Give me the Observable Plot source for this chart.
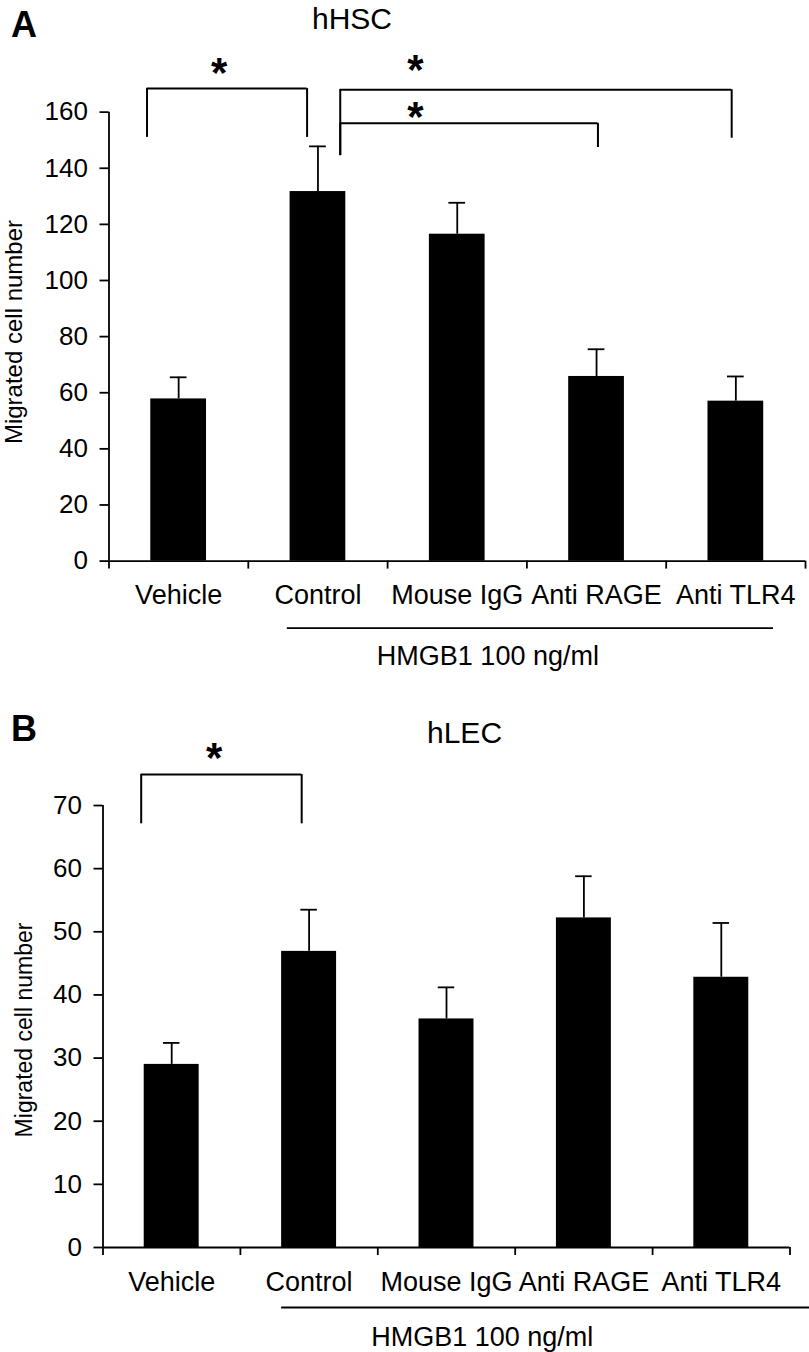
<!DOCTYPE html>
<html>
<head>
<meta charset="utf-8">
<script src="https://cdn.jsdelivr.net/npm/d3@7"></script>
<script src="https://cdn.jsdelivr.net/npm/@observablehq/plot@0.6"></script>
<style>
  body { margin: 0; background: #fff; }
  #wrap { position: relative; width: 809px; height: 1352px; overflow: hidden; background: #fff;
          font-family: "Liberation Sans", Arial, sans-serif; color: #000; }
  .lbl { position: absolute; line-height: 1; white-space: nowrap; color: #000; }
  .ylab { position: absolute; line-height: 1; white-space: nowrap; transform: translate(-50%, -50%) rotate(-90deg); }
  .panel { position: absolute; left: 0; }
</style>
</head>
<body>
<div id="wrap">
  <div class="lbl" style="left:11px;top:7px;font-size:36px;font-weight:bold;">A</div>
  <div class="lbl" style="left:312px;top:4px;font-size:30px;">hHSC</div>
  <div class="ylab" style="left:14px;top:332px;font-size:24px;">Migrated cell number</div>
  <div class="lbl" style="left:11px;top:711px;font-size:36px;font-weight:bold;">B</div>
  <div class="lbl" style="left:427px;top:718px;font-size:30px;">hLEC</div>
  <div class="ylab" style="left:24px;top:1030px;font-size:23px;">Migrated cell number</div>
</div>
<script>
// ---- data ----
const categories = ["Vehicle", "Control", "Mouse IgG", "Anti RAGE", "Anti TLR4"];
const groupLabel = "HMGB1 100 ng/ml";

// Panel A: hHSC
const hscMean = [57.8, 131.7, 116.5, 65.8, 57.0];
const hscSem  = [7.7, 16.1, 11.2, 9.7, 8.8];
const hscTicks = [0, 20, 40, 60, 80, 100, 120, 140, 160];

// Panel B: hLEC
const lecMean = [29.0, 46.9, 36.2, 52.2, 42.8];
const lecSem  = [3.4, 6.6, 5.0, 6.6, 8.6];
const lecTicks = [0, 10, 20, 30, 40, 50, 60, 70];

// significance brackets (x in category-index units, y in data units)
const hscBracketFrom = [-0.227, 1.16, 1.16];
const hscBracketTo   = [0.922, 3.97, 3.01];
const hscBracketTop  = [168.4, 168.0, 156.0];
const hscBracketLeftEnd  = [151.0, 144.5, 144.5];
const hscBracketRightEnd = [151.0, 150.7, 147.4];
const hscStarX = [0.29, 1.70, 1.70];
const hscStarY = [177.3, 178.4, 161.6];

const lecBracketFrom = [-0.222];
const lecBracketTo   = [0.946];
const lecBracketTop  = [74.9];
const lecBracketLeftEnd  = [67.1];
const lecBracketRightEnd = [67.1];
const lecStarX = [0.31];
const lecStarY = [79.0];

// HMGB1 group underline (category-index units)
const hscGroupFrom = 0.78, hscGroupTo = 4.27, hscGroupMid = 2.22;
const lecGroupFrom = 0.80, lecGroupTo = 5.3, lecGroupMid = 2.26;

const bounds = [-0.5, 0.5, 1.5, 2.5, 3.5, 4.5];

function panel(o) {
  const idx = o.means.map((_, i) => i);
  const br = o.bFrom.map((_, i) => i);
  const st = o.sX.map((_, i) => i);
  const SW = 1.8;
  return Plot.plot({
    width: 809,
    height: o.height,
    marginLeft: o.left,
    marginRight: 809 - o.right,
    marginTop: o.zeroPx - o.yTop * o.ppu,
    marginBottom: o.height - o.zeroPx,
    x: { type: "linear", domain: [-0.5, 4.5], axis: null },
    y: { type: "linear", domain: [0, o.yTop], axis: null },
    style: { fontFamily: "'Liberation Sans', Arial, sans-serif", fontSize: "26px", color: "#000", background: "transparent", overflow: "visible" },
    marks: [
      // bars
      Plot.rect(idx, { x1: i => i - 0.2, x2: i => i + 0.2, y1: () => 0, y2: i => o.means[i], fill: "#000" }),
      // error bars
      Plot.ruleX(idx, { x: i => i, y1: i => o.means[i], y2: i => o.means[i] + o.sems[i], stroke: "#000", strokeWidth: SW }),
      Plot.ruleY(idx, { y: i => o.means[i] + o.sems[i], x1: i => i - 0.06, x2: i => i + 0.06, stroke: "#000", strokeWidth: SW }),
      // axis lines
      Plot.ruleX([0], { x: () => -0.5, y1: () => 0, y2: () => o.ticks[o.ticks.length - 1], stroke: "#000", strokeWidth: SW }),
      Plot.ruleY([0], { y: () => 0, x1: () => -0.5, x2: () => 4.5, stroke: "#000", strokeWidth: SW }),
      Plot.axisY({ ticks: o.ticks, tickSize: 9, tickPadding: 12, fontSize: 26, strokeWidth: SW, label: null }),
      Plot.axisX({ ticks: bounds, tickSize: 8, tickFormat: () => "", strokeWidth: SW, label: null }),
      // category labels
      Plot.text(categories, { x: (d, i) => i, y: () => 0, text: d => d, dy: 43, lineAnchor: "bottom", fontSize: 27, fill: "#000" }),
      // group underline and label
      Plot.ruleY([0], { y: () => 0, x1: () => o.gFrom, x2: () => o.gTo, dy: o.gLineDy, stroke: "#000", strokeWidth: SW }),
      Plot.text([groupLabel], { x: () => o.gMid, y: () => 0, text: d => d, dy: o.gTextDy, lineAnchor: "bottom", fontSize: 27, fill: "#000" }),
      // significance brackets
      Plot.ruleY(br, { y: i => o.bTop[i], x1: i => o.bFrom[i], x2: i => o.bTo[i], stroke: "#000", strokeWidth: 2 }),
      Plot.ruleX(br, { x: i => o.bFrom[i], y1: i => o.bLeftEnd[i], y2: i => o.bTop[i], stroke: "#000", strokeWidth: 2 }),
      Plot.ruleX(br, { x: i => o.bTo[i], y1: i => o.bRightEnd[i], y2: i => o.bTop[i], stroke: "#000", strokeWidth: 2 }),
      Plot.text(st, { x: i => o.sX[i], y: i => o.sY[i], text: () => "*", fontSize: 42, fontWeight: "bold", dy: 10, fill: "#000" })
    ]
  });
}

const wrap = document.getElementById("wrap");

const a = panel({
  height: 690, left: 108.5, right: 805, zeroPx: 560.6, ppu: 2.806, yTop: 190,
  means: hscMean, sems: hscSem, ticks: hscTicks,
  bFrom: hscBracketFrom, bTo: hscBracketTo, bTop: hscBracketTop,
  bLeftEnd: hscBracketLeftEnd, bRightEnd: hscBracketRightEnd,
  sX: hscStarX, sY: hscStarY,
  gFrom: hscGroupFrom, gTo: hscGroupTo, gMid: hscGroupMid, gLineDy: 67, gTextDy: 104
});
a.classList.add("panel");
a.style.top = "0px";
wrap.appendChild(a);

const b = panel({
  height: 662, left: 102.5, right: 789.5, zeroPx: 557, ppu: 6.314, yTop: 85,
  means: lecMean, sems: lecSem, ticks: lecTicks,
  bFrom: lecBracketFrom, bTo: lecBracketTo, bTop: lecBracketTop,
  bLeftEnd: lecBracketLeftEnd, bRightEnd: lecBracketRightEnd,
  sX: lecStarX, sY: lecStarY,
  gFrom: lecGroupFrom, gTo: lecGroupTo, gMid: lecGroupMid, gLineDy: 60, gTextDy: 98
});
b.classList.add("panel");
b.style.top = "690px";
wrap.appendChild(b);
</script>
</body>
</html>
